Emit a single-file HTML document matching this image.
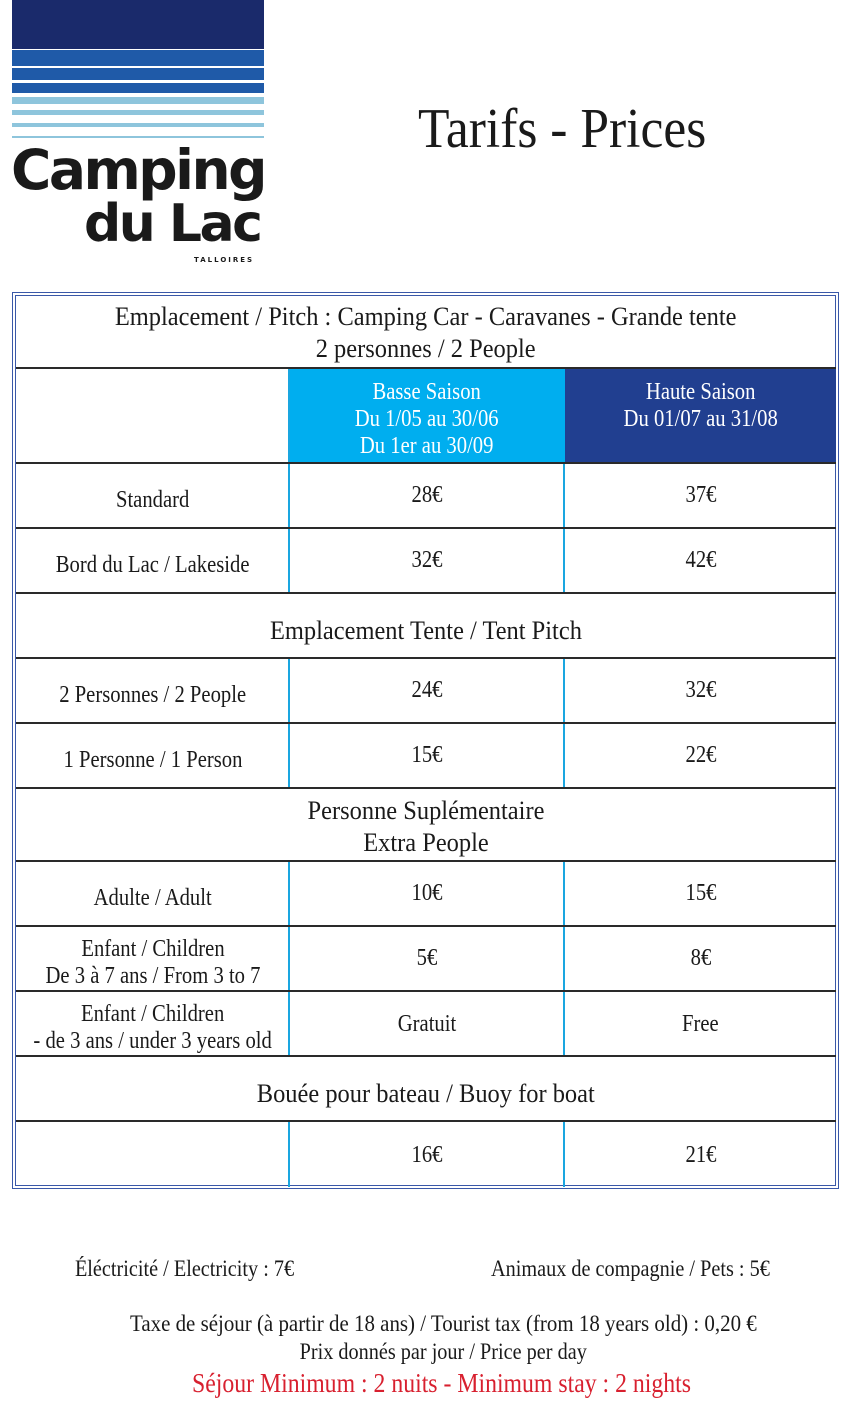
<!DOCTYPE html>
<html><head><meta charset="utf-8"><style>
*{margin:0;padding:0;box-sizing:border-box}
body{width:851px;height:1403px;background:#fff;position:relative;overflow:hidden;font-family:"Liberation Serif",serif;color:#1a1a1a}
.a{position:absolute}
.c{position:absolute;display:flex;align-items:center;justify-content:center;text-align:center;font-size:24px;line-height:27px}
.c span{display:inline-block;transform:scaleX(.86);white-space:nowrap}
.s{font-size:26px;line-height:32px}
.s span{transform:scaleX(.94)}
.h{position:absolute;left:16px;width:820px;height:2px;background:#2a2a2a}
.v{position:absolute;width:2px;background:#1aa6e0}
</style></head><body>
<!-- logo -->
<div class="a" style="left:12px;top:0;width:252px;height:49px;background:#1a2a6b"></div>
<div class="a" style="left:12px;top:50px;width:252px;height:16px;background:#1f5aa8"></div>
<div class="a" style="left:12px;top:68px;width:252px;height:12px;background:#1f5aa8"></div>
<div class="a" style="left:12px;top:83px;width:252px;height:10px;background:#1f5aa8"></div>
<div class="a" style="left:12px;top:97px;width:252px;height:7px;background:#8ec5dc"></div>
<div class="a" style="left:12px;top:110px;width:252px;height:5px;background:#8ec5dc"></div>
<div class="a" style="left:12px;top:123px;width:252px;height:4px;background:#8ec5dc"></div>
<div class="a" style="left:12px;top:136px;width:252px;height:2px;background:#8ec5dc"></div>
<div class="a" style="left:11px;top:138px;font-family:'DejaVu Sans',sans-serif;font-weight:900;font-size:55px;letter-spacing:-2.5px;color:#1a1a1a;line-height:64px">Camping</div>
<div class="a" style="left:84px;top:192px;font-family:'DejaVu Sans',sans-serif;font-weight:900;font-size:52px;letter-spacing:-2.5px;color:#1a1a1a;line-height:64px">du Lac</div>
<div class="a" style="left:194px;top:256px;font-family:'DejaVu Sans',sans-serif;font-weight:bold;font-size:7px;letter-spacing:2px">TALLOIRES</div>
<div class="a" style="left:418px;top:96px;font-size:56px;line-height:66px"><span style="display:inline-block;transform:scaleX(.92);transform-origin:left">Tarifs - Prices</span></div>
<!-- table frame -->
<div class="a" style="left:12px;top:292px;width:827px;height:897px;border:1px solid #3a58a8"></div>
<div class="a" style="left:15px;top:295px;width:821px;height:891px;border:1px solid #3a58a8"></div>
<div class="a" style="left:289px;top:368px;width:276px;height:95px;background:#00aeef"></div>
<div class="a" style="left:565px;top:368px;width:271px;height:95px;background:#213f90"></div>
<div class="v" style="left:288px;top:368px;height:226px"></div>
<div class="v" style="left:563px;top:463px;height:131px"></div>
<div class="v" style="left:288px;top:658px;height:131px"></div>
<div class="v" style="left:563px;top:658px;height:131px"></div>
<div class="v" style="left:288px;top:861px;height:196px"></div>
<div class="v" style="left:563px;top:861px;height:196px"></div>
<div class="v" style="left:288px;top:1121px;height:66px"></div>
<div class="v" style="left:563px;top:1121px;height:66px"></div>
<div class="h" style="top:367px"></div><div class="h" style="top:462px"></div><div class="h" style="top:527px"></div><div class="h" style="top:592px"></div><div class="h" style="top:657px"></div><div class="h" style="top:722px"></div><div class="h" style="top:787px"></div><div class="h" style="top:860px"></div><div class="h" style="top:925px"></div><div class="h" style="top:990px"></div><div class="h" style="top:1055px"></div><div class="h" style="top:1120px"></div>
<!-- text -->
<div class="c s" style="left:16px;top:300px;width:820px;height:66px"><span>Emplacement / Pitch : Camping Car - Caravanes - Grande tente<br>2 personnes / 2 People</span></div>
<div class="c" style="left:289px;top:379px;width:276px;height:84px;color:#fff;align-items:flex-start"><span>Basse Saison<br>Du 1/05 au 30/06<br>Du 1er au 30/09</span></div>
<div class="c" style="left:565px;top:379px;width:271px;height:84px;color:#fff;align-items:flex-start"><span>Haute Saison<br>Du 01/07 au 31/08</span></div>
<div class="c" style="left:16px;top:472px;width:273px;height:56px"><span>Standard</span></div>
<div class="c" style="left:289px;top:464px;width:276px;height:63px"><span>28€</span></div>
<div class="c" style="left:565px;top:464px;width:271px;height:63px"><span>37€</span></div>
<div class="c" style="left:16px;top:537px;width:273px;height:56px"><span>Bord du Lac / Lakeside</span></div>
<div class="c" style="left:289px;top:529px;width:276px;height:63px"><span>32€</span></div>
<div class="c" style="left:565px;top:529px;width:271px;height:63px"><span>42€</span></div>
<div class="c s" style="left:16px;top:599px;width:820px;height:63px"><span>Emplacement Tente / Tent Pitch</span></div>
<div class="c" style="left:16px;top:667px;width:273px;height:56px"><span>2 Personnes / 2 People</span></div>
<div class="c" style="left:289px;top:659px;width:276px;height:63px"><span>24€</span></div>
<div class="c" style="left:565px;top:659px;width:271px;height:63px"><span>32€</span></div>
<div class="c" style="left:16px;top:732px;width:273px;height:56px"><span>1 Personne / 1 Person</span></div>
<div class="c" style="left:289px;top:724px;width:276px;height:63px"><span>15€</span></div>
<div class="c" style="left:565px;top:724px;width:271px;height:63px"><span>22€</span></div>
<div class="c s" style="left:16px;top:791px;width:820px;height:71px"><span>Personne Suplémentaire<br>Extra People</span></div>
<div class="c" style="left:16px;top:870px;width:273px;height:56px"><span>Adulte / Adult</span></div>
<div class="c" style="left:289px;top:862px;width:276px;height:63px"><span>10€</span></div>
<div class="c" style="left:565px;top:862px;width:271px;height:63px"><span>15€</span></div>
<div class="c" style="left:16px;top:933px;width:273px;height:60px"><span>Enfant / Children<br>De 3 à 7 ans / From 3 to 7</span></div>
<div class="c" style="left:289px;top:927px;width:276px;height:63px"><span>5€</span></div>
<div class="c" style="left:565px;top:927px;width:271px;height:63px"><span>8€</span></div>
<div class="c" style="left:16px;top:998px;width:273px;height:60px"><span>Enfant / Children<br>- de 3 ans / under 3 years old</span></div>
<div class="c" style="left:289px;top:993px;width:276px;height:63px"><span>Gratuit</span></div>
<div class="c" style="left:565px;top:993px;width:271px;height:63px"><span>Free</span></div>
<div class="c s" style="left:16px;top:1062px;width:820px;height:63px"><span>Bouée pour bateau / Buoy for boat</span></div>
<div class="c" style="left:289px;top:1123px;width:276px;height:64px"><span>16€</span></div>
<div class="c" style="left:565px;top:1123px;width:271px;height:64px"><span>21€</span></div>
<!-- footer -->
<div class="c" style="left:40px;top:1254px;width:290px;height:28px;font-size:23px"><span style="transform:scaleX(.88)">Éléctricité / Electricity : 7€</span></div>
<div class="c" style="left:470px;top:1254px;width:320px;height:28px;font-size:23px"><span style="transform:scaleX(.88)">Animaux de compagnie / Pets : 5€</span></div>
<div class="c" style="left:0;top:1309px;width:886px;height:28px;font-size:23px"><span style="transform:scaleX(.91)">Taxe de séjour (à partir de 18 ans) / Tourist tax (from 18 years old) : 0,20 €</span></div>
<div class="c" style="left:0;top:1337px;width:886px;height:28px;font-size:23px"><span style="transform:scaleX(.88)">Prix donnés par jour / Price per day</span></div>
<div class="c" style="left:0;top:1367px;width:884px;height:32px;font-size:27px;color:#d8202f"><span style="transform:scaleX(.88)">Séjour Minimum : 2 nuits - Minimum stay : 2 nights</span></div>
</body></html>
